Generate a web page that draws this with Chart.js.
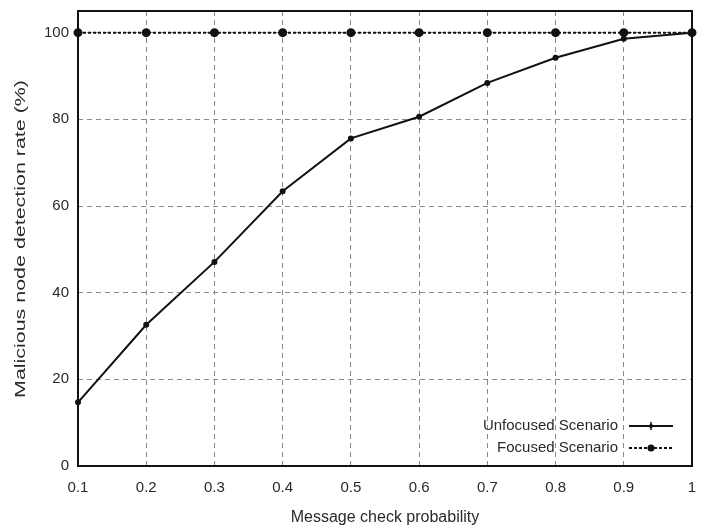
<!DOCTYPE html>
<html>
<head>
<meta charset="utf-8">
<script src="https://cdn.jsdelivr.net/npm/chart.js@4.4.1/dist/chart.umd.min.js"></script>
<style>
  html, body { margin: 0; padding: 0; background: #ffffff; }
  #wrap { width: 702px; height: 531px; position: relative; }
</style>
</head>
<body>
<div id="wrap"><canvas id="detectChart"></canvas></div>
<script>
// data
const probLabels = ["0.1", "0.2", "0.3", "0.4", "0.5", "0.6", "0.7", "0.8", "0.9", "1"];
const unfocused = [14.7, 32.6, 47.1, 63.4, 75.6, 80.6, 88.4, 94.2, 98.6, 100];
const focused = [100, 100, 100, 100, 100, 100, 100, 100, 100, 100];
const seriesNames = ["Unfocused Scenario", "Focused Scenario"];
const yTicks = [0, 20, 40, 60, 80, 100];
const yTitle = "Malicious node detection rate (%)";

const FONT = "'Liberation Sans', Arial, sans-serif";
const TXT = "#2a2a2a";

// box border, y title (stretched like the scan) and gnuplot style legend
const boxLegend = {
    id: "boxLegend",
    afterDraw(chart) {
        const c = chart.ctx;
        const a = chart.chartArea;
        c.save();
        c.strokeStyle = "#111";
        c.lineWidth = 2;
        c.setLineDash([]);
        c.strokeRect(a.left, a.top, a.right - a.left, a.bottom - a.top);

        //Y TITLE
        c.save();
        c.translate(21, 239);
        c.rotate(-Math.PI / 2);
        c.scale(1.53, 1);
        c.font = "14px " + FONT;
        c.fillStyle = TXT;
        c.textAlign = "center";
        c.textBaseline = "middle";
        c.fillText(yTitle, 0, 0);
        c.restore();

        //LEGEND
        c.font = "15px " + FONT;
        c.fillStyle = TXT;
        c.textAlign = "right";
        c.textBaseline = "middle";
        const textRight = a.right - 74;
        const lineL = a.right - 63, lineR = a.right - 19;
        const mid = (lineL + lineR) / 2;
        const rows = [a.bottom - 40, a.bottom - 18];
        seriesNames.forEach((name, i) => {
            const y = rows[i];
            c.fillText(name, textRight, y);
            c.strokeStyle = "#111";
            c.lineWidth = 2;
            c.setLineDash(i === 0 ? [] : [3, 2]);
            c.beginPath();
            c.moveTo(lineL, y);
            c.lineTo(lineR, y);
            c.stroke();
            c.setLineDash([]);
            c.fillStyle = "#111";
            c.beginPath();
            c.arc(mid, y, i === 0 ? 2 : 3.5, 0, Math.PI * 2);
            c.fill();
            if (i === 0) {
                c.lineWidth = 1.5;
                c.beginPath();
                c.moveTo(mid, y - 4);
                c.lineTo(mid, y + 4);
                c.stroke();
            }
            c.fillStyle = TXT;
        });
        c.restore();
    }
};

let detectChart = null;

function initChart() {
    const ctx = document.getElementById("detectChart");
    detectChart = new Chart(ctx, {
        type: "line",
        data: {
            labels: probLabels,
            datasets: [{
                label: seriesNames[0],
                data: unfocused,
                borderColor: "#111",
                borderWidth: 2,
                pointRadius: 2,
                pointBackgroundColor: "#111",
                pointBorderColor: "#111",
                tension: 0
            }, {
                label: seriesNames[1],
                data: focused,
                borderColor: "#111",
                borderWidth: 2,
                borderDash: [3, 2],
                pointRadius: 3.5,
                pointBackgroundColor: "#111",
                pointBorderColor: "#111",
                tension: 0
            }]
        },
        options: {
            responsive: true,
            maintainAspectRatio: false,
            animation: false,
            layout: { padding: { left: 0, right: 10, top: 11, bottom: 0 } },
            plugins: { legend: { display: false }, tooltip: { enabled: false } },
            scales: {
                x: {
                    type: "category",
                    offset: false,
                    afterFit: (s) => { s.height = 65; s.paddingLeft = 0; s.paddingRight = 0; },
                    ticks: {
                        color: TXT,
                        padding: 13,
                        font: { family: FONT, size: 15 },
                        maxRotation: 0
                    },
                    grid: {
                        color: "#8a8a8a",
                        lineWidth: 1,
                        drawTicks: false
                    },
                    border: { display: false, dash: [5, 4] },
                    title: {
                        display: true,
                        text: "Message check probability",
                        color: TXT,
                        font: { family: FONT, size: 16 },
                        padding: { top: 4 }
                    }
                },
                y: {
                    min: 0,
                    max: 105,
                    afterFit: (s) => { s.width = 78; s.paddingTop = 0; s.paddingBottom = 0; },
                    afterBuildTicks: (s) => { s.ticks = yTicks.map(v => ({ value: v })); },
                    ticks: {
                        color: TXT,
                        padding: 9,
                        font: { family: FONT, size: 15 }
                    },
                    grid: {
                        color: "#8a8a8a",
                        lineWidth: 1,
                        drawTicks: false
                    },
                    border: { display: false, dash: [5, 4] },
                    title: { display: false }
                }
            }
        },
        plugins: [boxLegend]
    });
}

window.onload = () => {
    initChart();
};
</script>
</body>
</html>
